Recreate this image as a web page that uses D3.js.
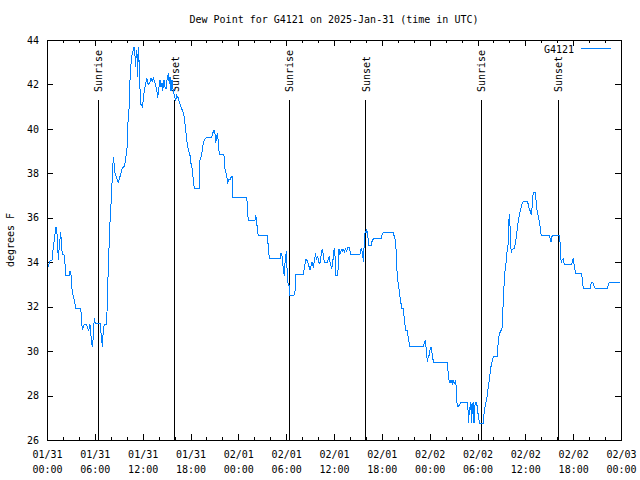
<!DOCTYPE html>
<html>
   <head>
      <script type="text/javascript" src="https://d3js.org/d3.v7.min.js"></script>
      <style>
         body { margin: 0; background: white; }
         text { font-family: "DejaVu Sans Mono", monospace; font-size: 10px; fill: black; }
         .tick text { font-family: "DejaVu Sans Mono", monospace; font-size: 10px; }
         line, path, rect { shape-rendering: crispEdges; }
      </style>
   </head>
   <body>
      <script>
      // hours since 01/31 00:00 UTC
      var hours = [0.16,0.41,0.63,0.75,0.92,1.04,1.13,1.29,1.42,1.54,1.72,1.84,1.92,2.13,2.26,2.35,2.80,2.89,3.01,3.10,
         3.22,3.42,3.55,3.64,4.23,4.30,4.39,4.48,4.55,4.68,4.98,5.11,5.23,5.39,5.56,5.68,5.81,5.93,6.06,6.65,
         6.74,6.94,7.06,7.19,7.44,7.53,7.61,7.74,7.86,7.99,8.07,8.19,8.32,8.40,8.53,8.74,8.94,9.07,9.19,9.41,
         9.75,9.87,10.03,10.12,10.29,10.41,10.54,10.66,10.83,10.91,11.04,11.13,11.20,11.33,11.38,11.45,11.54,11.67,11.79,11.95,
         12.08,12.20,12.38,12.51,12.63,12.79,12.92,13.05,13.21,13.33,13.55,13.76,13.89,14.01,14.17,14.30,14.43,14.51,14.68,14.80,
         14.93,15.05,15.22,15.34,15.43,15.55,15.68,15.84,16.02,16.14,16.27,16.47,16.60,16.77,17.02,17.18,17.40,17.52,17.72,17.94,
         18.06,18.23,18.35,18.48,19.07,19.10,19.19,19.40,19.48,19.61,19.73,19.94,20.66,20.78,20.95,21.07,21.16,21.29,21.41,21.49,
         21.61,22.20,22.24,22.42,22.54,22.67,22.83,22.95,23.12,23.24,23.29,25.05,25.11,25.17,25.25,26.09,26.18,26.30,26.38,26.50,
         27.63,27.72,27.81,27.88,29.23,29.31,29.44,29.52,29.64,29.77,29.85,29.94,30.02,30.07,30.23,30.36,30.48,30.98,31.11,31.23,
         32.15,32.24,32.36,32.49,32.65,32.83,32.99,33.12,33.24,33.33,33.40,33.58,33.66,33.74,33.83,33.96,34.08,34.24,34.33,34.46,
         34.53,34.66,34.78,35.21,35.29,35.41,35.50,35.62,35.71,35.84,35.96,36.04,36.13,36.21,36.41,36.54,36.63,36.75,36.88,37.00,
         37.09,37.17,37.29,37.42,37.59,37.72,37.92,38.01,38.13,39.26,39.35,39.47,39.55,39.64,39.68,39.73,39.80,39.89,39.98,40.01,
         40.10,40.18,40.27,40.39,40.64,40.73,40.93,41.90,41.98,42.18,43.44,43.53,43.65,43.78,43.86,43.99,44.15,44.28,44.40,44.53,
         44.69,44.78,44.91,44.99,45.16,45.28,45.41,45.50,47.20,47.33,47.45,47.54,47.63,47.70,47.79,47.92,48.00,48.08,48.17,48.26,
         48.38,48.46,50.21,50.30,50.39,50.46,50.55,50.68,50.80,50.89,51.02,51.14,51.22,51.30,51.39,51.47,51.72,51.93,52.72,52.81,
         52.90,52.97,53.06,53.18,53.27,53.35,53.47,53.56,53.65,53.77,53.85,53.97,54.06,54.19,54.31,54.73,54.82,54.94,55.07,55.23,
         55.36,55.48,55.57,55.69,55.82,55.98,56.48,56.57,56.70,56.88,57.07,57.11,57.24,57.36,57.49,57.61,57.74,57.86,57.91,57.99,
         58.08,58.16,58.24,58.33,58.45,58.62,58.74,58.87,58.99,59.12,59.24,59.37,59.49,59.62,59.75,60.25,60.37,60.50,60.62,60.75,
         60.84,60.92,61.00,61.25,61.34,61.43,61.55,61.68,61.80,61.93,62.00,62.97,63.09,63.22,63.31,63.43,64.26,64.35,64.44,64.51,
         64.60,64.76,64.89,65.82,65.94,66.02,66.14,66.23,66.32,67.07,67.15,67.27,68.11,68.20,68.33,68.53,68.65,68.78,70.28,70.41,
         70.53,71.87];

      var dewPoint = [33.8,34.1,34.1,34.55,35.0,35.4,35.6,35.2,34.1,34.7,35.35,34.7,34.35,34.35,33.9,33.4,33.4,33.6,33.45,32.9,
         32.6,32.3,32.05,31.9,31.9,31.6,31.15,30.95,31.15,31.2,31.2,31.0,30.95,31.2,30.5,30.2,30.6,31.5,31.25,31.25,
         30.95,30.2,30.95,31.2,31.2,31.8,32.9,34.2,35.5,36.4,36.85,37.85,38.75,38.5,38.0,37.8,37.6,37.75,37.9,38.2,
         38.35,38.7,39.05,40.1,40.9,42.2,42.95,43.3,43.55,43.7,43.3,42.8,43.55,43.3,42.35,43.7,43.1,41.75,41.1,41.0,
         41.3,41.7,42.05,42.3,42.05,42.0,42.1,42.3,42.1,42.3,42.05,41.8,41.4,41.8,42.2,41.9,42.05,41.7,42.2,41.9,
         41.8,42.2,42.5,42.0,42.35,41.7,42.2,41.7,41.45,41.3,41.5,41.4,41.2,41.0,40.8,40.6,39.95,39.5,39.05,38.8,
         38.45,38.15,37.7,37.3,37.3,38.15,38.6,38.8,39.05,39.35,39.5,39.6,39.6,39.8,39.95,39.8,39.35,39.7,39.8,39.35,
         38.85,38.85,38.3,38.1,37.85,37.6,37.75,37.7,37.85,37.85,36.9,36.9,36.65,36.2,35.9,35.9,36.1,35.9,35.45,35.2,
         35.2,34.85,34.5,34.15,34.15,34.4,34.4,34.15,33.7,33.4,33.95,34.25,34.5,33.95,33.05,32.95,32.5,32.5,32.7,33.45,
         33.45,33.65,33.9,34.15,34.05,33.85,33.65,33.85,34.0,33.85,33.8,34.1,34.4,34.25,34.15,34.25,34.0,33.95,34.2,34.5,
         34.6,34.35,34.0,34.0,34.2,34.25,34.0,33.85,33.7,34.0,34.4,34.65,34.25,33.4,33.4,33.75,34.6,34.35,34.5,34.6,
         34.45,34.6,34.45,34.6,34.5,34.65,34.65,34.5,34.35,34.35,34.55,34.6,34.4,34.2,34.0,34.4,34.85,35.3,35.4,35.3,
         35.5,35.3,35.1,34.75,34.75,34.9,35.05,35.05,35.2,35.35,35.35,35.2,35.05,34.6,33.8,33.2,32.8,32.45,32.15,31.9,
         31.9,31.6,31.15,30.95,30.95,30.7,30.4,30.2,30.2,30.35,30.5,30.2,29.85,29.5,29.7,29.8,29.95,30.1,30.2,30.0,
         29.75,29.5,29.5,29.1,28.85,28.55,28.7,28.55,28.7,28.5,28.65,28.55,28.7,28.5,27.8,27.5,27.55,27.7,27.7,27.35,
         26.75,27.5,27.35,27.7,26.75,27.5,27.7,26.75,27.5,27.7,27.7,27.5,27.2,26.9,26.75,26.75,27.2,27.5,27.7,28.0,
         28.45,28.7,28.95,29.3,29.5,29.75,29.75,30.25,30.7,30.9,30.95,31.5,32.2,33.2,33.8,34.0,34.65,34.8,35.65,36.15,
         35.6,34.85,34.4,34.55,34.6,34.6,34.85,35.15,35.5,35.9,36.1,36.3,36.5,36.65,36.75,36.75,36.6,36.4,36.3,36.15,
         36.45,36.85,37.15,37.15,36.8,36.4,36.2,35.95,35.75,35.35,35.2,35.2,35.1,34.9,35.15,35.2,35.2,34.9,34.25,33.95,
         34.1,34.15,33.9,33.9,34.1,34.15,33.85,33.65,33.5,33.5,33.2,32.8,32.8,33.0,33.1,33.05,32.9,32.8,32.8,33.0,
         33.1,33.1];

      var sunriseHours = [6.42, 30.4, 54.5];
      var sunsetHours = [16.05, 40.0, 64.12];

      var xTickHours = [0, 6, 12, 18, 24, 30, 36, 42, 48, 54, 60, 66, 72];
      var xTickDates = ["01/31", "01/31", "01/31", "01/31", "02/01", "02/01", "02/01", "02/01", "02/02", "02/02", "02/02", "02/02", "02/03"];
      var xTickTimes = ["00:00", "06:00", "12:00", "18:00", "00:00", "06:00", "12:00", "18:00", "00:00", "06:00", "12:00", "18:00", "00:00"];
      var yTicks = [26, 28, 30, 32, 34, 36, 38, 40, 42, 44];

      var svgWidth = 640, svgHeight = 480;
      var margin = {top: 40, right: 19, bottom: 40, left: 47};
      var width = svgWidth - margin.left - margin.right,
          height = svgHeight - margin.top - margin.bottom;

      var svg = d3.select("body").append("svg")
         .attr("width", svgWidth)
         .attr("height", svgHeight);

      svg.append("rect")
         .attr("width", svgWidth)
         .attr("height", svgHeight)
         .attr("fill", "white");

      var x = d3.scaleLinear().domain([0, 72]).range([0, width]);
      var y = d3.scaleLinear().domain([26, 44]).range([height, 0]);

      var g = svg.append("g")
         .attr("transform", "translate(" + margin.left + "," + margin.top + ")");

      // minor ticks every 2 hours, bottom and top
      var minorHours = d3.range(0, 73, 2).filter(function(h){ return h % 6 != 0; });
      g.append("g").attr("transform", "translate(0," + height + ")")
         .call(d3.axisBottom(x).tickValues(minorHours).tickSize(-3).tickFormat(""));
      g.append("g")
         .call(d3.axisTop(x).tickValues(minorHours).tickSize(-3).tickFormat(""));

      var xAxis = g.append("g")
         .attr("transform", "translate(0," + height + ")")
         .call(d3.axisBottom(x).tickValues(xTickHours).tickSize(-6).tickPadding(11)
            .tickFormat(function(d, i){ return xTickDates[i]; }));
      xAxis.selectAll(".tick text")
         .append("tspan")
         .attr("x", 0)
         .attr("dy", "1.5em")
         .text(function(d, i){ return xTickTimes[i]; });

      g.append("g")
         .call(d3.axisTop(x).tickValues(xTickHours).tickSize(-6).tickFormat(""));

      g.append("g")
         .call(d3.axisLeft(y).tickValues(yTicks).tickSize(-6).tickPadding(8).tickFormat(d3.format("d")));
      g.append("g")
         .attr("transform", "translate(" + width + ",0)")
         .call(d3.axisRight(y).tickValues(yTicks).tickSize(-6).tickFormat(""));

      g.selectAll(".domain").remove();
      g.selectAll(".tick line").attr("stroke", "black");
      g.selectAll(".tick text").attr("fill", "black");

      // sunrise / sunset markers
      var lineTop = y(41.3);
      var events = sunriseHours.map(function(h){ return {h: h, name: "Sunrise"}; })
         .concat(sunsetHours.map(function(h){ return {h: h, name: "Sunset"}; }));

      g.selectAll(".sunline").data(events).enter()
         .append("line")
         .attr("class", "sunline")
         .attr("x1", function(d){ return x(d.h); })
         .attr("x2", function(d){ return x(d.h); })
         .attr("y1", height)
         .attr("y2", lineTop)
         .attr("stroke", "black")
         .attr("stroke-width", 1);

      g.selectAll(".sunlabel").data(events).enter()
         .append("text")
         .attr("class", "sunlabel")
         .attr("transform", function(d){
            return "translate(" + (x(d.h) + 4) + "," + (lineTop - 8) + ") rotate(-90)";
         })
         .text(function(d){ return d.name; });

      // dew point line
      var line = d3.line()
         .x(function(d){ return x(d[0]); })
         .y(function(d){ return y(d[1]); });

      g.append("path")
         .datum(d3.zip(hours, dewPoint))
         .attr("fill", "none")
         .attr("stroke", "#0080ff")
         .attr("stroke-width", 1)
         .attr("d", line);

      // frame
      g.append("rect")
         .attr("x", 0).attr("y", 0)
         .attr("width", width).attr("height", height)
         .attr("fill", "none")
         .attr("stroke", "black");

      // legend
      g.append("text")
         .attr("x", width - 47)
         .attr("y", 12.5)
         .attr("text-anchor", "end")
         .text("G4121");
      g.append("line")
         .attr("x1", width - 40).attr("x2", width - 10)
         .attr("y1", 8.5).attr("y2", 8.5)
         .attr("stroke", "#0080ff");

      // title and axis label
      svg.append("text")
         .attr("x", margin.left + width / 2)
         .attr("y", 23)
         .attr("text-anchor", "middle")
         .text("Dew Point for G4121 on 2025-Jan-31 (time in UTC)");

      svg.append("text")
         .attr("transform", "translate(14," + (margin.top + height / 2) + ") rotate(-90)")
         .attr("text-anchor", "middle")
         .text("degrees F");
      </script>
   </body>
</html>
